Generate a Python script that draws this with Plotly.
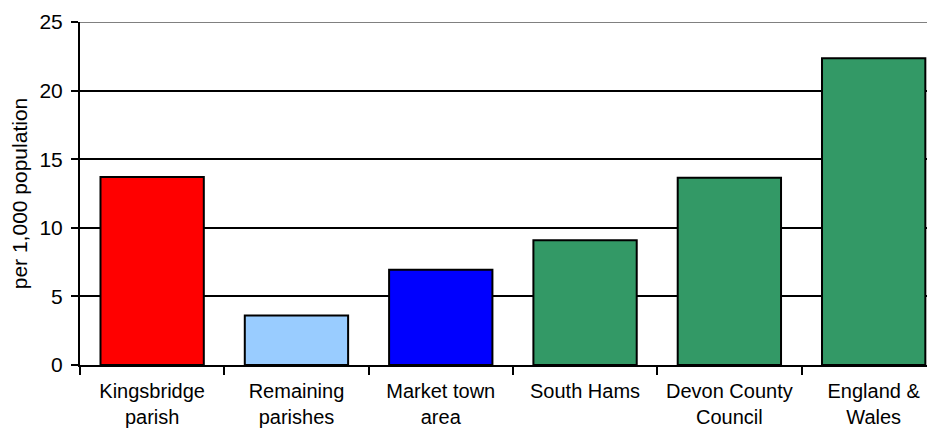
import plotly.graph_objects as go

categories = ["Kingsbridge<br>parish", "Remaining<br>parishes", "Market town<br>area",
              "South Hams", "Devon County<br>Council", "England &<br>Wales"]
values = [13.7, 3.6, 6.95, 9.1, 13.65, 22.35]
colors = ["#FF0000", "#99CCFF", "#0000FF", "#339966", "#339966", "#339966"]
y_ticks = [0, 5, 10, 15, 20, 25]

FONT = "Arial, 'Liberation Sans', sans-serif"

fig = go.Figure(go.Bar(
    x=categories, y=values,
    marker=dict(color=colors, line=dict(color="black", width=2)),
    width=0.716,
))

fig.update_layout(
    width=927, height=424,
    margin=dict(l=72, r=0, t=14, b=67),
    paper_bgcolor="white", plot_bgcolor="white",
    font=dict(family=FONT, size=21, color="black"),
    showlegend=False,
)
fig.update_xaxes(
    type="category", range=[-0.5, 5.425], automargin=False,
    showline=True, linecolor="black", linewidth=2,
    ticks="outside", tickson="boundaries", ticklen=8, tickwidth=2, tickcolor="black",
    showgrid=False, tickfont=dict(size=20), ticklabelstandoff=7,
)
fig.update_yaxes(
    range=[0, 25], tickvals=y_ticks, automargin=False,
    showline=True, linecolor="black", linewidth=2,
    ticks="outside", ticklen=7, tickwidth=2, tickcolor="black",
    showgrid=True, gridcolor="black", gridwidth=2,
    zeroline=False,
    title=dict(text="per 1,000 population", font=dict(size=21), standoff=8),
    tickfont=dict(size=21), ticklabelstandoff=4,
)
fig.add_shape(type="line", xref="paper", yref="y", x0=0, x1=1, y0=25, y1=25,
              line=dict(color="#808080", width=2), layer="above")

fig.write_html("out.html")
